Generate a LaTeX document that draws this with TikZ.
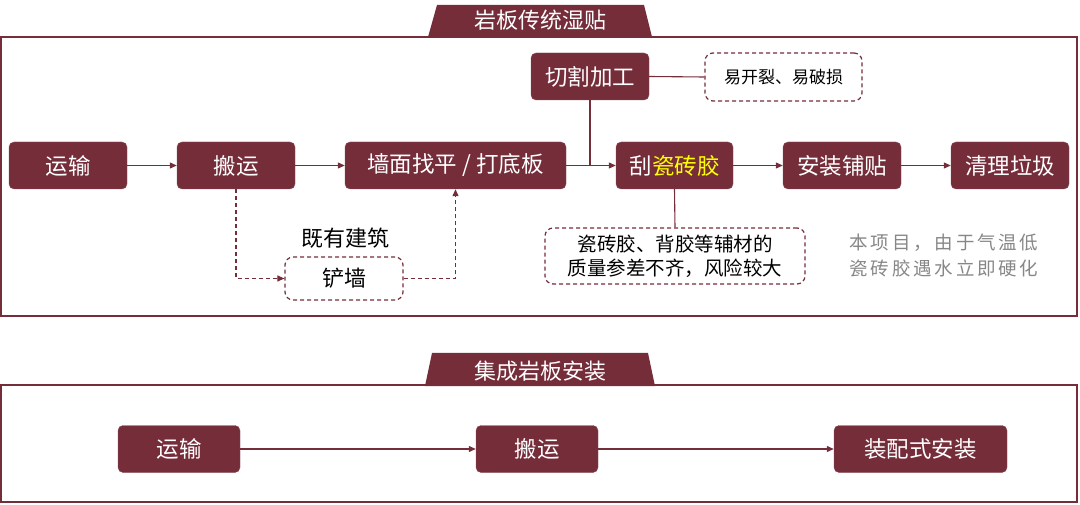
\documentclass[tikz,border=0pt]{standalone}
\usepackage{fontspec}
\setmainfont{Noto Sans CJK SC}
\newfontfamily\notefont[LetterSpace=15]{Noto Sans CJK SC}
\usetikzlibrary{arrows.meta}

\definecolor{wine}{RGB}{117,45,58}
\definecolor{notegray}{RGB}{135,135,135}
\definecolor{tileyellow}{RGB}{255,255,0}

\tikzset{
  stepbox/.style={rectangle, rounded corners=5pt, fill=wine, draw=wine!85!white,
    text=white, minimum height=47pt, inner sep=0pt, font=\fontsize{22.5}{25}\selectfont},
  riskbox/.style={rectangle, rounded corners=8pt, draw=wine, dash pattern=on 4pt off 3pt,
    line width=1.2pt, fill=white, text=black, inner sep=0pt, align=center},
  flow/.style={draw=wine, line width=1.1pt, -{Triangle[length=7pt,width=6pt]}},
  link/.style={draw=wine, line width=1.1pt},
  frame/.style={draw=wine, line width=1.5pt},
  tabtext/.style={text=white, font=\fontsize{22}{24}\selectfont}
}

\begin{document}
\begin{tikzpicture}[x=1pt,y=-1pt]
  \useasboundingbox (0,0) rectangle (1080,505);

  % upper frame: traditional wet laying
  \draw[frame] (1,37) rectangle (1077,316);
  \fill[wine] (428,37) -- (437,5) -- (644,5) -- (652,37) -- cycle;
  \node[tabtext] (toptitle) at (540,20) {岩板传统湿贴};

  % lower frame: integrated installation
  \draw[frame] (1,385) rectangle (1077,502);
  \fill[wine] (425,386) -- (432,353) -- (648,353) -- (655,386) -- cycle;
  \node[tabtext] (bottitle) at (540,371) {集成岩板安装};

  % main row
  \node[stepbox, minimum width=118pt] (ship) at (68,165.5) {运输};
  \node[stepbox, minimum width=118pt] (carry) at (236,165.5) {搬运};
  \node[stepbox, minimum width=221pt] (level) at (455.5,165.5) {墙面找平 / 打底板};
  \node[stepbox, minimum width=117pt] (glue) at (674.5,165.5) {刮{\color{tileyellow}瓷砖胶}};
  \node[stepbox, minimum width=118pt] (lay) at (842,165.5) {安装铺贴};
  \node[stepbox, minimum width=118pt] (clean) at (1010,165.5) {清理垃圾};
  \node[stepbox, minimum width=118pt] (cut) at (590,76.5) {切割加工};

  % risks and notes
  \node[riskbox, minimum width=157pt, minimum height=48pt, font=\fontsize{17}{20}\selectfont]
    (crack) at (783.5,77) {易开裂、易破损};
  \node[riskbox, minimum width=260pt, minimum height=56pt, font=\fontsize{19.5}{24}\selectfont]
    (quality) at (675,256) {瓷砖胶、背胶等辅材的\\质量参差不齐，风险较大};
  \node[riskbox, minimum width=118pt, minimum height=43pt, font=\fontsize{22}{24}\selectfont]
    (shovel) at (344,278.5) {铲墙};
  \node[font=\fontsize{22}{24}\selectfont] (existing) at (345,238) {既有建筑};
  \node[text=notegray, align=left, font=\notefont\fontsize{18.5}{26}\selectfont]
    (note) at (944,255) {本项目，由于气温低\\瓷砖胶遇水立即硬化};

  % connectors
  \draw[flow] (ship) -- (carry);
  \draw[flow] (carry) -- (level);
  \draw[flow] (level) -- (glue);
  \draw[flow] (glue) -- (lay);
  \draw[flow] (lay) -- (clean);
  \draw[link] (cut.south) -- (cut.south |- glue.west);
  \draw[link] (cut.east) -- (crack.west);
  \draw[link] (glue.south) -- (quality.north);
  \draw[flow, dash pattern=on 4pt off 3pt] (carry.south) |- (shovel.west);
  \draw[flow, dash pattern=on 4pt off 3pt] (shovel.east) -| (level.south);

  % integrated row
  \node[stepbox, minimum width=122pt] (shipb) at (179,449) {运输};
  \node[stepbox, minimum width=122pt] (carryb) at (537,449) {搬运};
  \node[stepbox, minimum width=173pt] (mount) at (920.5,449) {装配式安装};
  \draw[flow] (shipb) -- (carryb);
  \draw[flow] (carryb) -- (mount);

\end{tikzpicture}
\end{document}
